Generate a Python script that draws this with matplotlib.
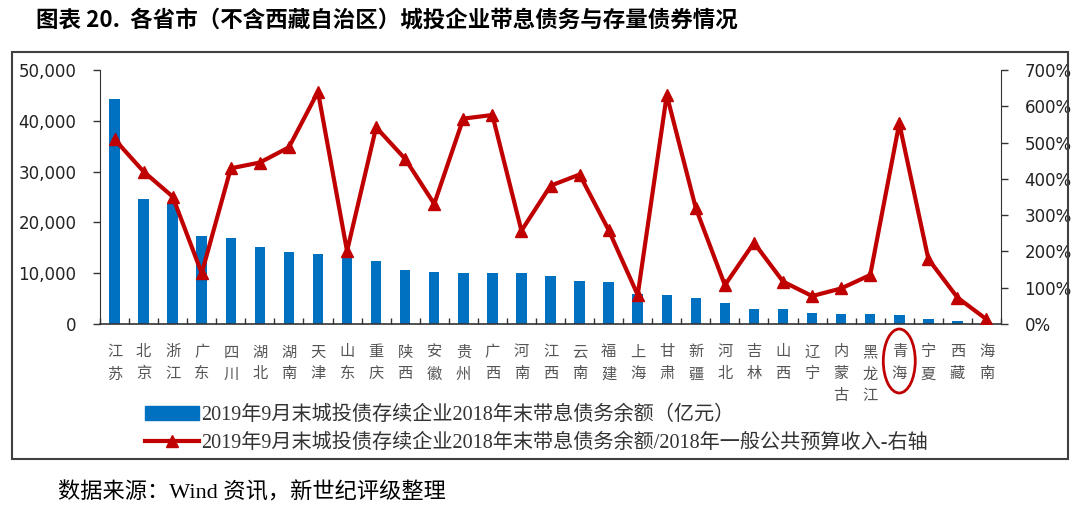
import numpy as np
import matplotlib
matplotlib.use('Agg')
import matplotlib.pyplot as plt
import matplotlib.patches as mpatches
import matplotlib.transforms as mtransforms
from matplotlib.ticker import FuncFormatter, PercentFormatter, FixedLocator
from matplotlib.lines import Line2D

plt.rcParams['font.family'] = ['Liberation Serif', 'Noto Sans CJK SC']

provinces = ['江苏', '北京', '浙江', '广东', '四川', '湖北', '湖南', '天津', '山东', '重庆',
             '陕西', '安徽', '贵州', '广西', '河南', '江西', '云南', '福建', '上海', '甘肃',
             '新疆', '河北', '吉林', '山西', '辽宁', '内蒙古', '黑龙江', '青海', '宁夏', '西藏', '海南']
# 带息债务余额（亿元）
debt = [44200, 24700, 23600, 17300, 17000, 15100, 14100, 13700, 13600, 12500,
        10600, 10300, 10100, 10100, 10100, 9400, 8400, 8200, 6000, 5800,
        5100, 4100, 3000, 3000, 2200, 2000, 2000, 1800, 1000, 600, 300]
# 带息债务余额/一般公共预算收入（%）
ratio = [509, 420, 351, 140, 429, 445, 487, 640, 201, 542,
         455, 331, 566, 576, 257, 381, 412, 259, 80, 631,
         319, 107, 224, 117, 77, 98, 135, 553, 179, 73, 13]

label_bar = '2019年9月末城投债存续企业2018年末带息债务余额（亿元）'
label_line = '2019年9月末城投债存续企业2018年末带息债务余额/2018年一般公共预算收入-右轴'

W, H = 1080, 513
fig = plt.figure(figsize=(W / 100, H / 100), dpi=100)

# outer frame
fig.patches.append(mpatches.Rectangle((12 / W, 1 - 459 / H), 1056 / W, 407 / H,
                                      transform=fig.transFigure, fill=False,
                                      edgecolor='#404040', lw=1.5))

ax = fig.add_axes([100 / W, 1 - 324 / H, 901 / W, 254 / H])
x = np.arange(len(provinces))
ax.bar(x, debt, width=0.36, color='#0070C0', zorder=2)
ax.set_xlim(-0.5, len(provinces) - 0.5)
ax.set_ylim(0, 50000)
ax.set_yticks(np.arange(0, 50001, 10000))
ax.yaxis.set_major_formatter(FuncFormatter(lambda v, p: f'{int(v):,}'))
ax.tick_params(axis='y', direction='out', length=5, width=1, labelsize=12, pad=12,
               color='#333333', labelcolor='#222222')
for t in ax.get_yticklabels():
    t.set_family('DejaVu Sans')
ax.set_xticks(x)
ax.set_xticklabels(['\n'.join(p) for p in provinces], family=['Noto Sans CJK SC'],
                   fontsize=11, color='#555555', linespacing=1.38, va='top')
ax.tick_params(axis='x', length=0, pad=14)
ax.xaxis.set_minor_locator(FixedLocator(np.arange(-0.5, len(provinces), 1)))
ax.tick_params(axis='x', which='minor', direction='in', length=4, width=1, color='#333333')
for s in ['top', 'right']:
    ax.spines[s].set_visible(False)
ax.spines['left'].set_color('#333333')
ax.spines['bottom'].set_color('#333333')
ax.spines['bottom'].set_linewidth(1.2)

ax2 = ax.twinx()
ax2.plot(x, np.array(ratio) / 100, color='#C00000', lw=3, marker='^', markersize=9, zorder=3)
ax2.set_ylim(0, 7)
ax2.set_yticks(np.arange(0, 7.01, 1))
ax2.yaxis.set_major_formatter(PercentFormatter(1.0, decimals=0))
ax2.tick_params(axis='y', direction='out', length=5, width=1, labelsize=12, pad=12,
                color='#333333', labelcolor='#222222')
for t in ax2.get_yticklabels():
    t.set_family('DejaVu Sans')
for s in ['top', 'left', 'bottom']:
    ax2.spines[s].set_visible(False)
ax2.spines['right'].set_color('#333333')

# circle around 青海
trans = mtransforms.blended_transform_factory(ax.transData, fig.transFigure)
qh = provinces.index('青海')
fig.patches.append(mpatches.Ellipse((qh, 1 - 361 / H), 1.1, 64 / H, transform=trans,
                                    fill=False, edgecolor='#C00000', lw=2))

handles = [mpatches.Patch(color='#0070C0'),
           Line2D([0], [0], color='#C00000', lw=3, marker='^', markersize=8)]
fig.legend(handles, [label_bar, label_line], loc='upper left',
           bbox_to_anchor=(145 / W, 1 - 406 / H), frameon=False, fontsize=14.5,
           handlelength=2.7, handleheight=0.7, handletextpad=0.1, labelspacing=0.4,
           borderaxespad=0, borderpad=0, labelcolor='#333333')

fig.text(36 / W, 1 - 20 / H, '图表 20.  各省市（不含西藏自治区）城投企业带息债务与存量债券情况',
         family=['Noto Sans CJK SC'], fontweight='bold', fontsize=16.2, va='center', ha='left')
fig.text(58 / W, 1 - 493 / H, '数据来源：Wind 资讯，新世纪评级整理',
         fontsize=16, va='center', ha='left')

fig.savefig('out.png', dpi=100)
